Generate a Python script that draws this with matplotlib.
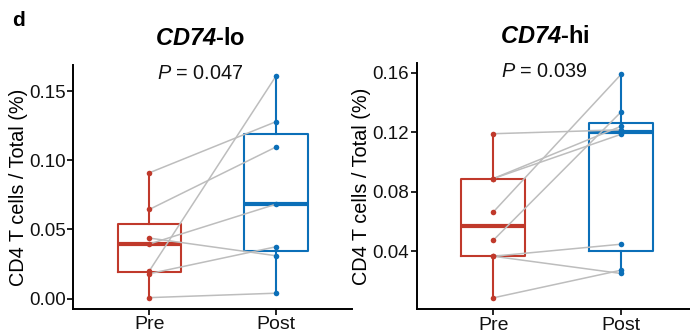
import matplotlib
matplotlib.use('Agg')
import matplotlib.pyplot as plt
import numpy as np

plt.rcParams['font.family'] = ['Liberation Sans', 'DejaVu Sans']
plt.rcParams['mathtext.fontset'] = 'custom'
plt.rcParams['mathtext.rm'] = 'Liberation Sans'
plt.rcParams['mathtext.it'] = 'Liberation Sans:italic'
plt.rcParams['mathtext.bf'] = 'Liberation Sans:bold'
plt.rcParams['mathtext.bfit'] = 'Liberation Sans:italic:bold'

# ---- data ----
groups = ['Pre', 'Post']
lo_pre = [0.091, 0.0645, 0.0438, 0.0395, 0.020, 0.018, 0.0007]
lo_post = [0.128, 0.1097, 0.031, 0.0683, 0.161, 0.0375, 0.0039]
hi_pre = [0.1191, 0.0889, 0.0889, 0.0664, 0.0474, 0.0366, 0.0366, 0.0086]
hi_post = [0.1217, 0.1241, 0.1187, 0.159, 0.1337, 0.0447, 0.025, 0.0272]
gene = 'CD74'
suffixes = ['-lo', '-hi']
pvals = ['0.047', '0.039']
lo_ticks = [0.00, 0.05, 0.10, 0.15]
hi_ticks = [0.04, 0.08, 0.12, 0.16]
ylabel = 'CD4 T cells / Total (%)'

RED = '#C0392B'
BLUE = '#0B6FB8'
GREY = '#BDBDBD'

fig = plt.figure(figsize=(6.9, 3.34), dpi=100)
W, H = 690, 334
def px_axes(x0, x1, ytop, ybot):
    return fig.add_axes([x0 / W, 1 - ybot / H, (x1 - x0) / W, (ybot - ytop) / H])

ax1 = px_axes(73.3, 352.0, 65.0, 308.7)
ax2 = px_axes(416.7, 697.6, 63.3, 309.0)

panels = [(ax1, lo_pre, lo_post, lo_ticks, suffixes[0], pvals[0]),
          (ax2, hi_pre, hi_post, hi_ticks, suffixes[1], pvals[1])]

for ax, pre, post, ticks, suf, p in panels:
    bp = ax.boxplot([pre, post], positions=[1, 2], widths=0.5, whis=1.5,
                    showfliers=False, showcaps=False, patch_artist=False)
    for i, col in enumerate([RED, BLUE]):
        bp['boxes'][i].set(color=col, linewidth=1.5)
        bp['medians'][i].set(color=col, linewidth=3.0, solid_capstyle='butt')
        for w in bp['whiskers'][2 * i:2 * i + 2]:
            w.set(color=col, linewidth=1.5)
    for a, b in zip(pre, post):
        ax.plot([1, 2], [a, b], color=GREY, lw=1.1, zorder=3)
    ax.scatter([1] * len(pre), pre, color=RED, s=16, zorder=4, linewidths=0)
    ax.scatter([2] * len(post), post, color=BLUE, s=16, zorder=4, linewidths=0)

    allv = np.array(pre + post)
    lo, hi = allv.min(), allv.max()
    pad = (hi - lo) * 0.05
    ax.set_ylim(lo - pad, hi + pad)
    ax.set_xlim(0.4, 2.6)
    ax.set_xticks([1, 2])
    ax.set_xticklabels(groups)
    ax.set_yticks(ticks)
    ax.set_yticklabels(['%.2f' % t for t in ticks])
    for s in ['top', 'right']:
        ax.spines[s].set_visible(False)
    for s in ['left', 'bottom']:
        ax.spines[s].set_linewidth(1.4)
        ax.spines[s].set_color('black')
    ax.tick_params(axis='both', length=4, width=1.2, color='black',
                   labelsize=13.5, labelcolor='#111111', pad=1.5)
    ax.tick_params(axis='x', labelsize=14)
    ax.set_ylabel(ylabel, fontsize=14.3, color='black', labelpad=1)
    ax.text(1.4, 0.967, r'$\it{P}$ = ' + p, transform=ax.get_xaxis_transform(),
            ha='center', va='center', fontsize=14.3, color='#111111')
    ax.text(1.4, 1.11, r'$\mathbfit{' + gene + '}$' + suf,
            transform=ax.get_xaxis_transform(), ha='center', va='center',
            fontsize=17, fontweight='bold', color='black')

fig.text(12 / W, 1 - 20 / H, 'd', fontsize=15, fontweight='bold',
         ha='left', va='center')

fig.savefig('out.png', dpi=100)
